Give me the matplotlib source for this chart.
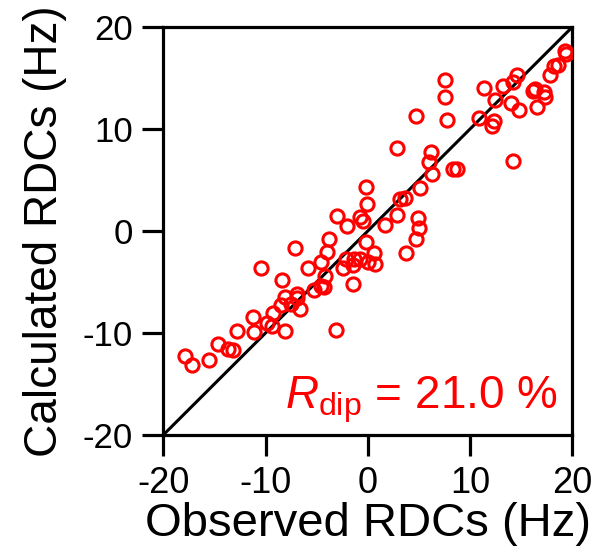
import numpy as np
import matplotlib.pyplot as plt

plt.rcParams['font.family'] = ['Liberation Sans', 'DejaVu Sans']
plt.rcParams['mathtext.fontset'] = 'custom'
plt.rcParams['mathtext.rm'] = 'Liberation Sans'
plt.rcParams['mathtext.it'] = 'Liberation Sans:italic'
plt.rcParams['axes.unicode_minus'] = False

# Observed vs calculated RDCs (Hz)
observed = [-17.9, -17.2, -15.5, -14.6, -13.7, -13.2, -12.8, -11.2, -11.1, -10.4,
            -9.9, -9.4, -9.3, -8.5, -8.4, -8.1, -8.1, -7.5, -7.1, -6.9,
            -6.9, -6.6, -5.8, -5.3, -4.6, -4.3, -4.2, -4.55, -4.0, -3.8,
            -3.1, -3.0, -2.4, -2.1, -2.0, -1.4, -1.4, -1.3, -0.75, -0.75,
            -0.45, -0.15, -0.2, -0.05, 0.05, 0.6, 0.75, 1.7, 2.9, 2.9,
            3.2, 3.6, 3.7, 4.7, 4.7, 4.9, 5.0, 5.15, 6.0, 6.2,
            6.3, 7.6, 7.6, 7.7, 8.35, 8.75, 10.9, 11.4, 12.1, 12.3,
            12.4, 13.2, 14.0, 14.2, 14.2, 14.55, 14.8, 16.2, 16.4, 16.55,
            17.2, 17.3, 17.8, 18.2, 18.6, 19.25, 19.4]
calculated = [-12.25, -13.15, -12.6, -11.05, -11.6, -11.7, -9.8, -8.4, -9.95, -3.6,
              -9.0, -9.3, -8.0, -7.3, -4.85, -9.8, -6.5, -7.2, -1.7, -6.2,
              -6.6, -7.6, -3.65, -5.8, -5.4, -5.5, -4.4, -3.0, -2.1, -0.75,
              -9.7, 1.45, -3.65, -2.7, 0.45, -5.2, -3.35, -2.7, -2.7, 1.35,
              0.95, -1.1, 4.35, 2.6, -3.05, -2.2, -3.25, 0.55, 8.1, 1.6,
              3.15, 3.25, -2.2, 11.3, -0.75, 1.3, 0.28, 4.2, 6.75, 7.7,
              5.55, 14.85, 13.1, 10.9, 6.1, 6.1, 11.05, 14.05, 10.3, 10.8,
              12.85, 14.25, 12.55, 14.65, 6.9, 15.3, 11.85, 13.7, 13.95, 12.2,
              13.65, 13.1, 15.3, 16.2, 16.3, 17.7, 17.4]
ticks = [-20, -10, 0, 10, 20]
r_dip = 21.0

fig = plt.figure(figsize=(5.98, 5.52), dpi=100)
ax = fig.add_axes([0.273, 0.212, 0.684, 0.739])

# 1:1 line and the data
ax.plot([-20, 20], [-20, 20], color='black', lw=2.2, zorder=2)
ax.plot(observed, calculated, 'o', mfc='none', mec='#ff0000', ms=9.5, mew=2.2, zorder=3)

ax.set_xlim(-20, 20)
ax.set_ylim(-20, 20)
ax.set_xticks(ticks)
ax.set_yticks(ticks)
ax.tick_params(direction='out', length=15, width=2.3)
ax.tick_params(axis='x', labelsize=26, pad=7.5)
ax.tick_params(axis='y', labelsize=25, pad=7)
for s in ax.spines.values():
    s.set_linewidth(2.3)

ax.set_xlabel('Observed RDCs (Hz)', fontsize=34, labelpad=0.5)
ax.set_ylabel('Calculated RDCs (Hz)', fontsize=33, labelpad=11)

ax.text(0.965, 0.065, r'$\mathit{R}_{\rm dip}$ = %.1f %%' % r_dip, transform=ax.transAxes,
        ha='right', va='baseline', fontsize=33, color='#ff0000')

fig.savefig('out.png', dpi=100)
